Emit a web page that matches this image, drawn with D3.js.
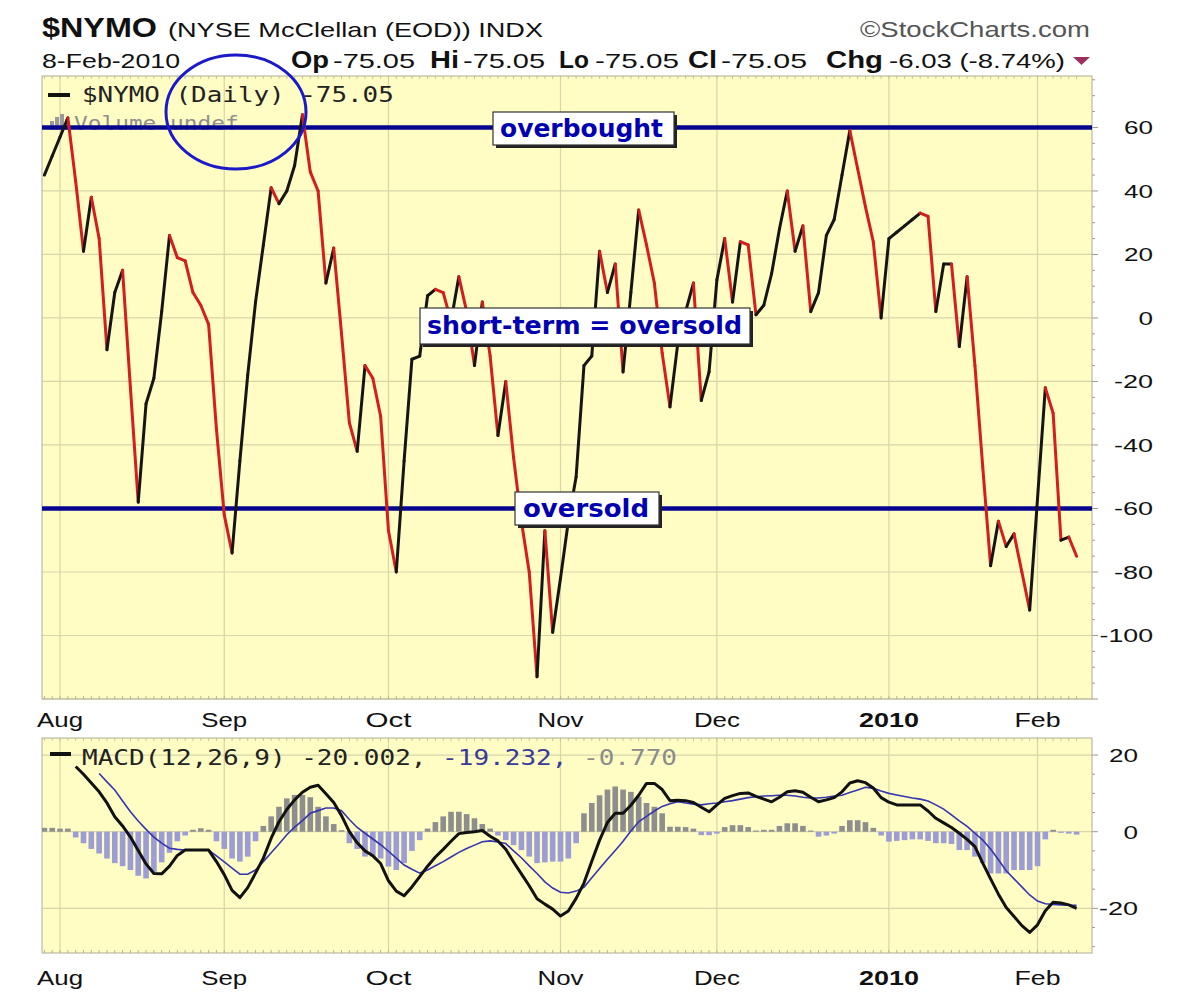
<!DOCTYPE html>
<html>
<head>
<meta charset="utf-8">
<script src="https://cdn.jsdelivr.net/npm/d3@7"></script>
<style>
  body { margin: 0; background: #fff; }
  svg { display: block; }
</style>
</head>
<body>
<script>
// trading days shown on the chart, per month
const tradingDays = [
  ['2009-07', [30, 31]],
  ['2009-08', [3, 4, 5, 6, 7, 10, 11, 12, 13, 14, 17, 18, 19, 20, 21, 24, 25, 26, 27, 28, 31]],
  ['2009-09', [1, 2, 3, 4, 8, 9, 10, 11, 14, 15, 16, 17, 18, 21, 22, 23, 24, 25, 28, 29, 30]],
  ['2009-10', [1, 2, 5, 6, 7, 8, 9, 12, 13, 14, 15, 16, 19, 20, 21, 22, 23, 26, 27, 28, 29, 30]],
  ['2009-11', [2, 3, 4, 5, 6, 9, 10, 11, 12, 13, 16, 17, 18, 19, 20, 23, 24, 25, 27, 30]],
  ['2009-12', [1, 2, 3, 4, 7, 8, 9, 10, 11, 14, 15, 16, 17, 18, 21, 22, 23, 24, 28, 29, 30, 31]],
  ['2010-01', [4, 5, 6, 7, 8, 11, 12, 13, 14, 15, 19, 20, 21, 22, 25, 26, 27, 28, 29]],
  ['2010-02', [1, 2, 3, 4, 5, 8]],
];
const monthLabels = ['Aug', 'Sep', 'Oct', 'Nov', 'Dec', '2010', 'Feb'];

// $NYMO daily close
const nymo = [
  45, 51, 57, 63, 43, 21, 38, 25, -10, 8,
  15, -22, -58, -27, -19, 2, 26, 19, 18, 8,
  4, -2, -35, -62, -74, -45, -18, 5, 23, 41,
  36, 40, 48, 64, 46, 40, 11, 22, -5, -33,
  -42, -15, -19, -31, -67, -80, -45, -13, -12, 7,
  9, 8, -1, 13, 2, -15, 5, -12, -37, -20,
  -44, -64, -80, -113, -67, -99, -82, -64, -50, -15,
  -12, 21, 8, 17, -17, 8, 34, 23, 11, -11,
  -28, -8, 2, 11, -26, -17, 12, 25, 5, 24,
  23, 1, 4, 14, 28, 40, 21, 29, 2, 8,
  26, 31, 45, 59, 47, 35, 24, 0, 25, 27,
  29, 31, 33, 32, 2, 17, 17, -9, 13, -15,
  -47, -78, -64, -72, -68, -80, -92, -57, -22, -30,
  -70, -69, -75.05,
];

// MACD(12,26,9)
const macdLine = [
  null, null, null, null,
  17, 15, 12.7, 10.4, 7.5, 3.9, 1.5, -1.4, -4.9, -8.4,
  -10.9, -11, -9, -6.2, -4.8, -4.8, -4.8, -4.8, -7.8, -11.2,
  -15.3, -17.2, -14.6, -10.8, -6.9, -1.7, 2.6, 5.8, 8.3, 10.3,
  11.6, 12.1, 9.9, 7.6, 4.2, 0, -2.9, -5, -6.3, -8.3,
  -12.8, -15.5, -16.7, -14.4, -11.7, -9, -6.6, -4.6, -2.5, -0.5,
  -0.2, 0, 0.3, -1.2, -2.4, -4.6, -7.9, -11, -14.1, -17.5,
  -18.9, -20.2, -22, -20.7, -17.4, -13.4, -7.7, -2.2, 2.4, 4.8,
  4.8, 6.9, 9.5, 12.6, 12.6, 11, 8.1, 8.2, 8.1, 7.6,
  6.4, 5.2, 7, 8.7, 9.4, 10, 10.1, 9.2, 8.5, 7.8,
  9, 10.4, 10.7, 10.3, 9, 7.8, 8.3, 8.9, 10.4, 12.7,
  13.3, 12.8, 11.4, 8.9, 7.7, 7, 7, 7, 7, 5.4,
  3.5, 2.3, 1.1, -0.4, -2, -3.9, -8.2, -12.3, -16.3, -19.8,
  -22.1, -24.5, -26.3, -24.3, -20.6, -18.4, -18.6, -19.1, -20.002,
];
const signalLine = [
  null, null, null, null, null, null, null,
  15.2, 13, 10.9, 8, 5.2, 2.8, 0.6, -1.4, -3, -4.3,
  -4.6, -4.8, -4.8, -4.8, -4.8, -6.3, -7.9, -9.5, -11.1, -11.1,
  -10, -7.8, -5.5, -3.2, -0.8, 1.2, 2.9, 4.8, 5.5, 6.2,
  6.2, 5.5, 3.2, 1.1, -0.4, -1.9, -3.4, -5.1, -6.9, -8.7,
  -9.8, -10.8, -10, -8.9, -7.8, -6.6, -5.4, -4.4, -3.5, -2.6,
  -2.4, -2.7, -3.1, -5, -6.8, -8.9, -10.9, -13.1, -14.7, -15.8,
  -16, -15.5, -14.5, -12, -9.6, -7.2, -4.9, -2.5, 0.2, 2.6,
  4, 5.4, 6.6, 7.3, 7.8, 7.5, 7.2, 7, 7.3, 7.5,
  7.8, 8.1, 8.5, 8.9, 9.1, 9.3, 9.4, 9.5, 9.5, 9.3,
  9, 8.8, 8.8, 9, 9.3, 9.5, 10.2, 10.9, 11.6, 11.3,
  10.6, 10, 9.6, 9.2, 8.8, 8.5, 8, 7, 5.9, 4.4,
  2.8, 1.4, -0.4, -2.2, -4.5, -7.3, -10.2, -12.3, -14.4, -16.5,
  -18.1, -18.8, -19, -19.1, -19.2, -19.232,
];
const histogram = [
  1, 1, 0.8, 0.8, -1.5, -3, -4.5, -5.7, -7, -8.2,
  -9, -10, -11.5, -12.2, -10.5, -8, -5.5, -2.5, -1, 0.5,
  0.9, 0.5, -2.5, -4.5, -7, -7.8, -6.5, -2.5, 1.5, 4,
  6.5, 8.7, 9.6, 9.6, 9, 6.5, 4, 2, 0.4, -3,
  -4.5, -6.5, -6.5, -7, -9.1, -10, -8.2, -5, -2.2, 0.8,
  2.5, 4, 5.2, 5.2, 4.6, 3.5, 2, 0.8, -1, -2.2,
  -3.5, -4.8, -6.5, -8.2, -8, -7.8, -7.8, -7, -3, 4.8,
  7.5, 9.5, 11, 11.8, 11, 10.4, 9.1, 7.5, 6.5, 4.8,
  1.3, 1.3, 1.2, 0.8, -0.9, -0.9, -0.5, 1.2, 1.7, 1.7,
  1.2, 0.3, 0.5, 0.5, 1.5, 2.2, 2.2, 1.5, 0.3, -1.3,
  -1, -0.5, 1.5, 3, 3, 2.5, 1, -1, -2.6, -2.4,
  -2.2, -2, -2, -2.4, -3, -3, -3.2, -4.8, -4.8, -6.5,
  -8.2, -10.9, -10.9, -10.9, -10, -10, -10, -9, -2, 0.5,
  -0.3, -0.5, -0.77,
];

const nymoTicks = [60, 40, 20, 0, -20, -40, -60, -80, -100];
const macdTicks = [20, 0, -20];
const overbought = 60;
const oversold = -60;

const sans = "'Liberation Sans', Arial, sans-serif";
const mono = "'DejaVu Sans Mono', monospace";
const boxFont = "'DejaVu Sans', Verdana, sans-serif";
const bgColor = '#fffcc4';
const gridColor = '#d8d5a9';
const upColor = '#151515';
const downColor = '#d21e1e';
const levelColor = '#05058f';

const pad = n => String(n).padStart(2, '0');
const dates = tradingDays.flatMap(([ym, days]) => days.map(d => `${ym}-${pad(d)}`));
const monthStarts = tradingDays.slice(1).map(([ym, days]) => `${ym}-${pad(days[0])}`);

const plotLeft = 42;
const plotRight = 1092;

const x = d3.scalePoint().domain(dates).range([44.4, 1076.6]);
const yMain = d3.scaleLinear().domain([-120, 76.2]).range([699, 76]);
const yMacd = d3.scaleLinear().domain([-31.65, 24.45]).range([953, 738]);

const svg = d3.select('body').append('svg')
  .attr('width', 1200)
  .attr('height', 997);

// text squeezed/stretched to the width it has in the picture
function label(g, str, x0, y0, size, width, opts = {}) {
  return g.append('text')
    .attr('x', x0)
    .attr('y', y0)
    .attr('textLength', width)
    .attr('lengthAdjust', 'spacingAndGlyphs')
    .style('font-family', opts.family || sans)
    .style('font-size', `${size}px`)
    .style('font-weight', opts.bold ? 'bold' : 'normal')
    .style('fill', opts.color || '#111')
    .text(str);
}

function panel(y, ticks, clipId) {
  const [bottom, top] = y.range();
  const g = svg.append('g');
  g.append('clipPath').attr('id', clipId)
    .append('rect')
    .attr('x', plotLeft).attr('y', top)
    .attr('width', plotRight - plotLeft).attr('height', bottom - top);
  g.append('rect')
    .attr('x', plotLeft).attr('y', top)
    .attr('width', plotRight - plotLeft).attr('height', bottom - top)
    .attr('fill', bgColor);
  // grid
  g.selectAll('.vgrid').data(monthStarts).join('line')
    .attr('x1', d => x(d)).attr('x2', d => x(d))
    .attr('y1', top).attr('y2', bottom)
    .attr('stroke', gridColor).attr('stroke-width', 1.2);
  g.selectAll('.hgrid').data(ticks).join('line')
    .attr('x1', plotLeft).attr('x2', plotRight)
    .attr('y1', d => y(d)).attr('y2', d => y(d))
    .attr('stroke', gridColor).attr('stroke-width', 1.2);
  // day ticks along top and bottom edges
  g.selectAll('.dtick').data(dates).join('line')
    .attr('x1', d => x(d)).attr('x2', d => x(d))
    .attr('y1', bottom).attr('y2', bottom - 3)
    .attr('stroke', '#b8b59a');
  g.selectAll('.ttick').data(dates).join('line')
    .attr('x1', d => x(d)).attr('x2', d => x(d))
    .attr('y1', top).attr('y2', top + 3)
    .attr('stroke', '#c8c5a8');
  // value ticks on the right
  const [lo, hi] = y.domain();
  const minor = d3.range(Math.ceil(lo / 5) * 5, hi, 5);
  g.selectAll('.rtick').data(minor).join('line')
    .attr('x1', plotRight).attr('x2', d => plotRight + (d % 20 === 0 ? 6 : 3))
    .attr('y1', d => y(d)).attr('y2', d => y(d))
    .attr('stroke', '#9a9a8a');
  g.append('rect')
    .attr('x', plotLeft).attr('y', top)
    .attr('width', plotRight - plotLeft).attr('height', bottom - top)
    .attr('fill', 'none')
    .attr('stroke', '#b0ad96');
  return g;
}

function monthAxis(baseline) {
  monthStarts.forEach((d, i) => {
    const name = monthLabels[i];
    const bold = name === '2010';
    const w = bold ? 60 : 46;
    label(svg, name, x(d) - w / 2, baseline, 20, w, { bold });
  });
}

function valueAxis(y, ticks, rightEdge) {
  ticks.forEach(t => {
    const s = String(t);
    const w = s.replace('-', '').length * 14.5 + (t < 0 ? 10 : 0);
    label(svg, s, rightEdge - w, y(t) + 7, 19, w);
  });
}

// ---------- header ----------
label(svg, '$NYMO', 42, 37, 27, 115, { bold: true });
label(svg, '(NYSE McClellan (EOD)) INDX', 168, 37, 21, 375);
label(svg, '\u00a9StockCharts.com', 860, 37, 22, 230, { color: '#555' });

const quote = [
  ['8-Feb-2010', 42, 138, false],
  ['Op', 291, 38, true], ['-75.05', 333, 82, false],
  ['Hi', 430, 29, true], ['-75.05', 463, 82, false],
  ['Lo', 559, 30, true], ['-75.05', 595, 84, false],
  ['Cl', 688, 29, true], ['-75.05', 721, 86, false],
  ['Chg', 826, 57, true], ['-6.03 (-8.74%)', 889, 176, false],
];
quote.forEach(([s, qx, w, bold]) => label(svg, s, qx, 68, bold ? 23 : 21, w, { bold }));
svg.append('path')
  .attr('d', 'M1073,57 L1090,57 L1081.5,65 Z')
  .attr('fill', '#9c2f5c');

// ---------- main panel ----------
panel(yMain, nymoTicks.concat([-120]), 'clip-main');

const pts = dates.map((date, i) => ({ date, v: nymo[i] }));
const seg = d3.line().x(d => x(d.date)).y(d => yMain(d.v));

// legend (under the level lines)
svg.append('rect').attr('x', 48).attr('y', 93).attr('width', 22).attr('height', 4).attr('fill', '#111');
svg.append('text')
  .attr('transform', 'translate(82,102) scale(1.178,1)')
  .style('font-family', mono).style('font-size', '22px').style('fill', '#222')
  .text('$NYMO (Daily) -75.05');
[[50, 9], [55, 13], [60, 16], [65, 11]].forEach(([bx, bh]) => {
  svg.append('rect').attr('x', bx).attr('y', 130 - bh).attr('width', 4).attr('height', bh)
    .attr('fill', '#9a9a9a');
});
svg.append('text')
  .attr('transform', 'translate(74,130) scale(1.14,1)')
  .style('font-family', mono).style('font-size', '20px').style('fill', '#8f8f8f')
  .text('Volume undef');

const mainLines = svg.append('g').attr('clip-path', 'url(#clip-main)');
[overbought, oversold].forEach(level => {
  mainLines.append('line')
    .attr('x1', plotLeft).attr('x2', plotRight)
    .attr('y1', yMain(level)).attr('y2', yMain(level))
    .attr('stroke', levelColor).attr('stroke-width', 4.5);
});
// each day's segment is red when the value fell, black when it rose
for (let i = 1; i < pts.length; i++) {
  mainLines.append('path')
    .attr('d', seg([pts[i - 1], pts[i]]))
    .attr('fill', 'none')
    .attr('stroke', pts[i].v < pts[i - 1].v ? downColor : upColor)
    .attr('stroke-width', 3)
    .attr('stroke-linecap', 'round');
}

monthAxis(727);
valueAxis(yMain, nymoTicks, 1153);

// annotation boxes
function noteBox(str, bx, by, bw, bh, tx, tw, base) {
  svg.append('rect').attr('x', bx + 3).attr('y', by + 3).attr('width', bw).attr('height', bh)
    .attr('fill', '#222');
  svg.append('rect').attr('x', bx).attr('y', by).attr('width', bw).attr('height', bh)
    .attr('fill', '#fff').attr('stroke', '#333').attr('stroke-width', 1.2);
  label(svg, str, tx, base, 25, tw, { bold: true, family: boxFont, color: '#0000b0' });
}
noteBox('overbought', 493, 112, 181, 33, 500, 163, 137);
noteBox('short-term = oversold', 420, 308, 330, 36, 427, 315, 334);
noteBox('oversold', 515, 492, 144, 33, 523, 126, 517);

// hand-drawn circle round the legend
svg.append('ellipse')
  .attr('cx', 236).attr('cy', 112).attr('rx', 70).attr('ry', 57)
  .attr('fill', 'none').attr('stroke', '#1a1ac8').attr('stroke-width', 3);

// ---------- MACD panel ----------
panel(yMacd, macdTicks, 'clip-macd');
const macdG = svg.append('g').attr('clip-path', 'url(#clip-macd)');

macdG.selectAll('.bar').data(dates.map((date, i) => ({ date, v: histogram[i] }))).join('rect')
  .attr('x', d => x(d.date) - 2.8)
  .attr('width', 5.6)
  .attr('y', d => Math.min(yMacd(0), yMacd(d.v)))
  .attr('height', d => Math.max(1, Math.abs(yMacd(d.v) - yMacd(0))))
  .attr('fill', d => (d.v >= 0 ? '#8e8e8e' : '#9d9dd6'));

const macdPath = d3.line()
  .defined(d => d.v != null)
  .x(d => x(d.date))
  .y(d => yMacd(d.v));

macdG.append('path')
  .attr('d', macdPath(dates.map((date, i) => ({ date, v: signalLine[i] }))))
  .attr('fill', 'none').attr('stroke', '#3535b0').attr('stroke-width', 1.6);
macdG.append('path')
  .attr('d', macdPath(dates.map((date, i) => ({ date, v: macdLine[i] }))))
  .attr('fill', 'none').attr('stroke', '#111').attr('stroke-width', 3)
  .attr('stroke-linejoin', 'round');

svg.append('rect').attr('x', 50).attr('y', 752).attr('width', 21).attr('height', 4).attr('fill', '#111');
const macdLegend = svg.append('text')
  .attr('transform', 'translate(82,765) scale(1.183,1)')
  .style('font-family', mono).style('font-size', '22px');
macdLegend.append('tspan').style('fill', '#222').text('MACD(12,26,9) -20.002, ');
macdLegend.append('tspan').style('fill', '#3a3a9a').text('-19.232, ');
macdLegend.append('tspan').style('fill', '#8c8c8c').text('-0.770');

monthAxis(985);
valueAxis(yMacd, macdTicks, 1138);
</script>
</body>
</html>
